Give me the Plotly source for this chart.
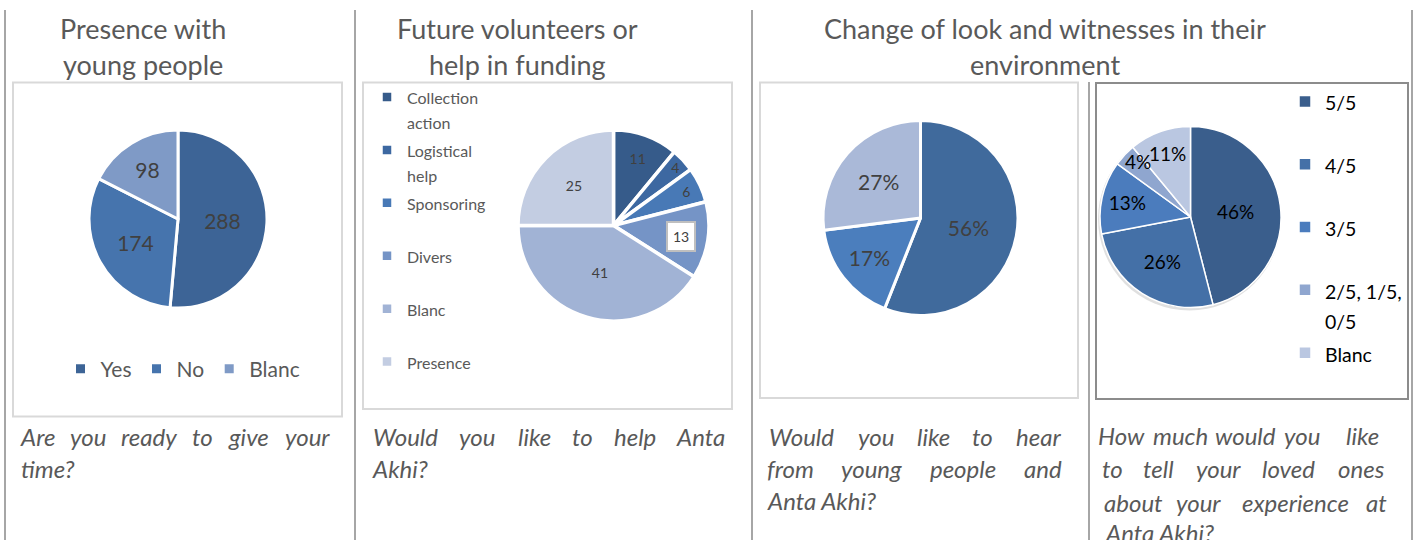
import math
import plotly.graph_objects as go

W, H = 1414, 540
FONT = "Lato, 'Open Sans', sans-serif"
GRAY = "#595959"

# ---------------- data ----------------
c1_labels = ["Yes", "No", "Blanc"]
c1_values = [288, 174, 98]
c1_colors = ["#3d6496", "#4674ad", "#7f9ac6"]

c2_labels = ["Collection action", "Logistical help", "Sponsoring", "Divers", "Blanc", "Presence"]
c2_legend = ["Collection<br>action", "Logistical<br>help", "Sponsoring", "Divers", "Blanc", "Presence"]
c2_values = [11, 4, 6, 13, 41, 25]
c2_colors = ["#365b8a", "#3d68a1", "#4879b6", "#7594c6", "#a1b3d5", "#c3cde2"]

c3_labels = ["Yes", "No", "Blanc"]
c3_values = [56, 17, 27]
c3_colors = ["#406a9c", "#4b7ebd", "#aab9d8"]

c4_labels = ["5/5", "4/5", "3/5", "2/5, 1/5, 0/5", "Blanc"]
c4_legend = ["5/5", "4/5", "3/5", "2/5, 1/5,<br>0/5", "Blanc"]
c4_values = [46, 26, 13, 4, 11]
c4_colors = ["#3a5e8c", "#4470a7", "#4b7cbd", "#8fa6cf", "#bac7e1"]

titles = [
    (143, ["Presence with", "young people"]),
    (517, ["Future volunteers or", "help in funding"]),
    (1045, ["Change of look and witnesses in their", "environment"]),
]

# ---------------- helpers ----------------
def px(x):
    return x / W

def py(y):
    return 1 - y / H

def dom(cx, cy, r):
    return dict(x=[px(cx - r), px(cx + r)], y=[py(cy + r), py(cy - r)])

def leg_label(t, size, lines=2):
    parts = t.split("<br>")
    parts = parts + ["&nbsp;"] * (lines - len(parts))
    return "<br>".join(f"<span style='font-size:{size}px'>{p}</span>" for p in parts)

def slice_point(values, i, center, frac):
    cx, cy, r = center
    tot = sum(values)
    a = (sum(values[:i]) + values[i] / 2) / tot * 2 * math.pi
    return cx + frac * r * math.sin(a), cy - frac * r * math.cos(a)

fig = go.Figure()

# Pie 1
P1 = (178, 219, 89)
fig.add_trace(go.Pie(
    labels=c1_labels, values=c1_values, sort=False, direction="clockwise", rotation=0,
    domain=dom(*P1), marker=dict(colors=c1_colors, line=dict(color="white", width=3)),
    textinfo="value", textposition="inside", insidetextorientation="horizontal",
    textfont=dict(family=FONT, size=21, color="#404040"), legend="legend", hoverinfo="label+value",
))

# Pie 2
P2 = (613.5, 225.5, 95.5)
i13 = c2_labels.index("Divers")
c2_text = [str(v) if i != i13 else "" for i, v in enumerate(c2_values)]
fig.add_trace(go.Pie(
    labels=[leg_label(t, 16) for t in c2_legend], values=c2_values, sort=False,
    direction="clockwise", rotation=0, domain=dom(*P2),
    marker=dict(colors=c2_colors, line=dict(color="white", width=3.5)),
    text=c2_text, textinfo="text", textposition="inside", insidetextorientation="horizontal",
    textfont=dict(family=FONT, size=14, color="#404040"), legend="legend2", hoverinfo="value",
))

# Pie 3
P3 = (920.5, 218, 97.5)
fig.add_trace(go.Pie(
    labels=c3_labels, values=c3_values, sort=False, direction="clockwise", rotation=0,
    domain=dom(*P3), marker=dict(colors=c3_colors, line=dict(color="white", width=3)),
    texttemplate="%{percent:.0%}", textposition="inside", insidetextorientation="horizontal",
    textfont=dict(family=FONT, size=21, color="#404040"), legend="legend3", hoverinfo="label+percent",
))

# Pie 4
P4 = (1190.5, 217, 90.5)
i4 = c4_values.index(min(c4_values))
c4_text = [f"{v}%" if i != i4 else "" for i, v in enumerate(c4_values)]
fig.add_trace(go.Pie(
    labels=[leg_label(t, 19.5) for t in c4_legend], values=c4_values, sort=False,
    direction="clockwise", rotation=0, domain=dom(*P4),
    marker=dict(colors=c4_colors, line=dict(color="white", width=1.5)),
    text=c4_text, textinfo="text", textposition="inside", insidetextorientation="horizontal",
    textfont=dict(family=FONT, size=19, color="#000000"), legend="legend4", hoverinfo="percent",
))

annotations = []
# titles
for cx, lines in titles:
    for i, line in enumerate(lines):
        annotations.append(dict(x=px(cx), y=py(29 + 36 * i), xref="paper", yref="paper",
                                text=line, showarrow=False, xanchor="center", yanchor="middle",
                                font=dict(family=FONT, size=27, color=GRAY)))

# boxed label of the Divers slice (position derived from the data)
lx, ly = slice_point(c2_values, i13, P2, 0.715)
annotations.append(dict(x=px(lx), y=py(ly), xref="paper", yref="paper", text=str(c2_values[i13]),
                        showarrow=False, xanchor="center", yanchor="middle", bgcolor="white",
                        bordercolor="#bfbfbf", borderwidth=2, borderpad=5,
                        font=dict(family=FONT, size=14, color="#404040")))

# small-slice label of pie 4, kept at full size (position derived from the data)
lx, ly = slice_point(c4_values, i4, P4, 0.8)
annotations.append(dict(x=px(lx), y=py(ly - 6), xref="paper", yref="paper",
                        text=f"{c4_values[i4]}%", showarrow=False, xanchor="center", yanchor="middle",
                        font=dict(family=FONT, size=19, color="#000000")))

# captions (justified text: one annotation per word)
cap_font = dict(family=FONT, size=24, color=GRAY)
caption_lines = [
    (436.5, [("Are", 37), ("you", 87.5), ("ready", 149), ("to", 203), ("give", 248.5), ("your", 307.5)]),
    (468, [("time?", None, 19)]),
    (436.5, [("Would", 406), ("you", 477.5), ("like", 534.5), ("to", 582), ("help", 634.5), ("Anta", 700.5)]),
    (468, [("Akhi?", None, 370)]),
    (436.5, [("Would", 801), ("you", 875.5), ("like", 933.5), ("to", 982.5), ("hear", 1038.5)]),
    (468, [("from", 790.5), ("young", 871.5), ("people", 963), ("and", 1042.5)]),
    (500.5, [("Anta Akhi?", None, 765)]),
    (435, [("How", 1121), ("much", 1180), ("would", 1245), ("you", 1302), ("like", 1362)]),
    (468, [("to", 1112.5), ("tell", 1158.5), ("your", 1218), ("loved", 1288.5), ("ones", 1361)]),
    (502, [("about", 1133), ("your", 1198), ("experience", 1295), ("at", 1376)]),
    (532, [("Anta Akhi?", None, 1103)]),
]
for y, words in caption_lines:
    for w in words:
        if len(w) == 2:
            annotations.append(dict(x=px(w[1]), y=py(y), xref="paper", yref="paper",
                                    text=f"<i>{w[0]}</i>", showarrow=False, xanchor="center",
                                    yanchor="middle", font=cap_font))
        else:
            annotations.append(dict(x=px(w[2]), y=py(y), xref="paper", yref="paper",
                                    text=f"<i>{w[0]}</i>", showarrow=False, xanchor="left",
                                    yanchor="middle", font=cap_font))

shapes = []
# page table lines
for x, y0 in [(5, 10), (355, 10), (752, 10), (1089, 82), (1412, 10)]:
    shapes.append(dict(type="line", xref="paper", yref="paper", x0=px(x), x1=px(x),
                       y0=py(540), y1=py(y0), line=dict(color="#a6a6a6", width=2)))
# chart frames
for (x0, y0, x1, y1, col) in [(13, 82.5, 342, 416.5, "#d9d9d9"), (363, 82.5, 732, 409, "#d9d9d9"),
                              (760, 82.5, 1078, 398, "#d9d9d9"), (1096, 83, 1408, 399, "#8c8c8c")]:
    shapes.append(dict(type="rect", xref="paper", yref="paper", x0=px(x0), x1=px(x1),
                       y0=py(y1), y1=py(y0), line=dict(color=col, width=2), layer="below"))
# soft shadow behind pie 4
cx4, cy4, r4 = P4
shapes.append(dict(type="circle", xref="paper", yref="paper", x0=px(cx4 - r4 - 2), x1=px(cx4 + r4),
                   y0=py(cy4 + r4 + 3), y1=py(cy4 - r4 + 1), line=dict(width=0),
                   fillcolor="rgba(0,0,0,0.12)", layer="below"))

leg_common = dict(bgcolor="rgba(0,0,0,0)", borderwidth=0)
fig.update_layout(
    width=W, height=H, margin=dict(l=0, r=0, t=0, b=0),
    paper_bgcolor="white", plot_bgcolor="white",
    annotations=annotations, shapes=shapes,
    legend=dict(orientation="h", x=px(80.5 - 20), y=py(369), xanchor="left", yanchor="middle",
                font=dict(family=FONT, size=21, color=GRAY), **leg_common),
    legend2=dict(orientation="v", x=px(387 - 20), y=py(78), xanchor="left", yanchor="top",
                 valign="top", font=dict(family=FONT, size=19.2, color=GRAY), **leg_common),
    legend3=dict(orientation="h", x=px(825 - 20), y=py(360), xanchor="left", yanchor="middle",
                 font=dict(family=FONT, size=21, color=GRAY), **leg_common),
    legend4=dict(orientation="v", x=px(1305 - 20), y=py(80), xanchor="left", yanchor="top",
                 valign="top", font=dict(family=FONT, size=23, color="#000000"), **leg_common),
)

fig.write_html("out.html", config={"displayModeBar": False},
               post_script="document.body.style.margin='0px';document.body.style.overflow='hidden';")
